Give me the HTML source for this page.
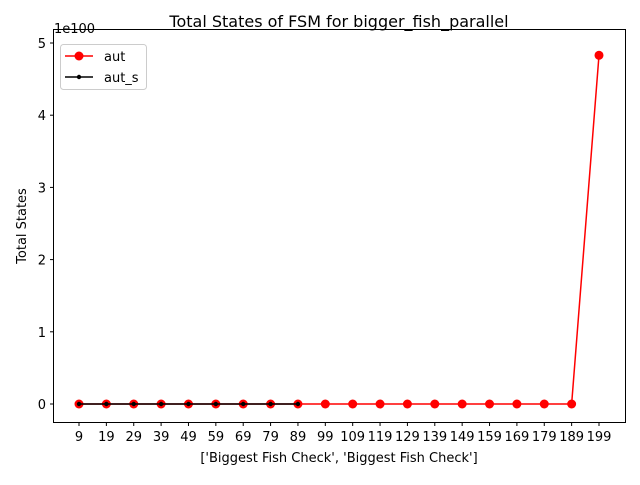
<!DOCTYPE html>
<html><head><meta charset="utf-8"><style>
body{margin:0;background:#fff;}
svg text{font-family:"DejaVu Sans","Liberation Sans",sans-serif;fill:#000;}
</style></head><body>
<svg id="chart" width="640" height="480" viewBox="0 0 640 480">
<rect width="640" height="480" fill="#fff"/>
<text x="339" y="27" font-size="16" text-anchor="middle">Total States of FSM for bigger_fish_parallel</text>
<text x="54" y="33" font-size="13">1e100</text>
<text x="339" y="462" font-size="13" text-anchor="middle">['Biggest Fish Check', 'Biggest Fish Check']</text>
<text transform="translate(26,226) rotate(-90)" font-size="13" text-anchor="middle">Total States</text>
<g id="ticks"></g>
<g id="series"></g>
<rect x="53.5" y="29.5" width="572" height="393" fill="none" stroke="#000" stroke-width="1"/>
<g>
<rect x="60.5" y="44.5" width="86" height="45" rx="3" fill="#fff" stroke="#ccc"/>
<g>
<line x1="65" y1="56" x2="93" y2="56" stroke="red" stroke-width="1.5"/>
<circle cx="79" cy="56" r="4.5" fill="red"/>
<text x="104" y="61" font-size="13">aut</text></g>
<g>
<line x1="65" y1="77" x2="93" y2="77" stroke="#000" stroke-width="1.5"/>
<circle cx="79" cy="77" r="2.2" fill="#000"/>
<text x="104" y="82" font-size="13">aut_s</text></g>
</g>
</svg>
<script>
const categories=[9,19,29,39,49,59,69,79,89,99,109,119,129,139,149,159,169,179,189,199];
const autValues=[0,0,0,0,0,0,0,0,0,0,0,0,0,0,0,0,0,0,0,4.83];
const autSValues=[0,0,0,0,0,0,0,0,0];
const yTicks=[0,1,2,3,4,5];
const NS="http://www.w3.org/2000/svg";
function xPos(i){return 79+i*(599-79)/(categories.length-1);}
function yPos(v){return 404-v*72.2;}
const tg=document.getElementById('ticks');
function mk(tag,attrs,parent){const e=document.createElementNS(NS,tag);for(const k in attrs)e.setAttribute(k,attrs[k]);parent.appendChild(e);return e;}
categories.forEach((c,i)=>{
  const x=xPos(i);
  const t=mk('line',{x1:x,y1:422.5,x2:x,y2:426,stroke:'#000'},tg);
  
  
  const l=mk('text',{x:x,y:441,'font-size':13,'text-anchor':'middle'},tg);
  l.textContent=c;
  
  
});
yTicks.forEach(v=>{
  const y=yPos(v);
  const t=mk('line',{x1:50,y1:y,x2:53.5,y2:y,stroke:'#000'},tg);
  
  
  const l=mk('text',{x:46,y:y+5,'font-size':13,'text-anchor':'end'},tg);
  l.textContent=v;
  
  
});
const sg=document.getElementById('series');
function drawSeries(vals,color,r,name){
  const g=mk('g',{},sg);
  
  
  const pts=vals.map((v,i)=>xPos(i)+','+yPos(v)).join(' ');
  const pl=mk('polyline',{points:pts,fill:'none',stroke:color,'stroke-width':1.5},g);
  
  
  vals.forEach((v,i)=>{
    const c=mk('circle',{cx:xPos(i),cy:yPos(v),r:r,fill:color},g);
    
    
  });
}
drawSeries(autValues,'red',4.5,'series-aut');
drawSeries(autSValues,'#000',2.2,'series-aut-s');
</script>
</body></html>
